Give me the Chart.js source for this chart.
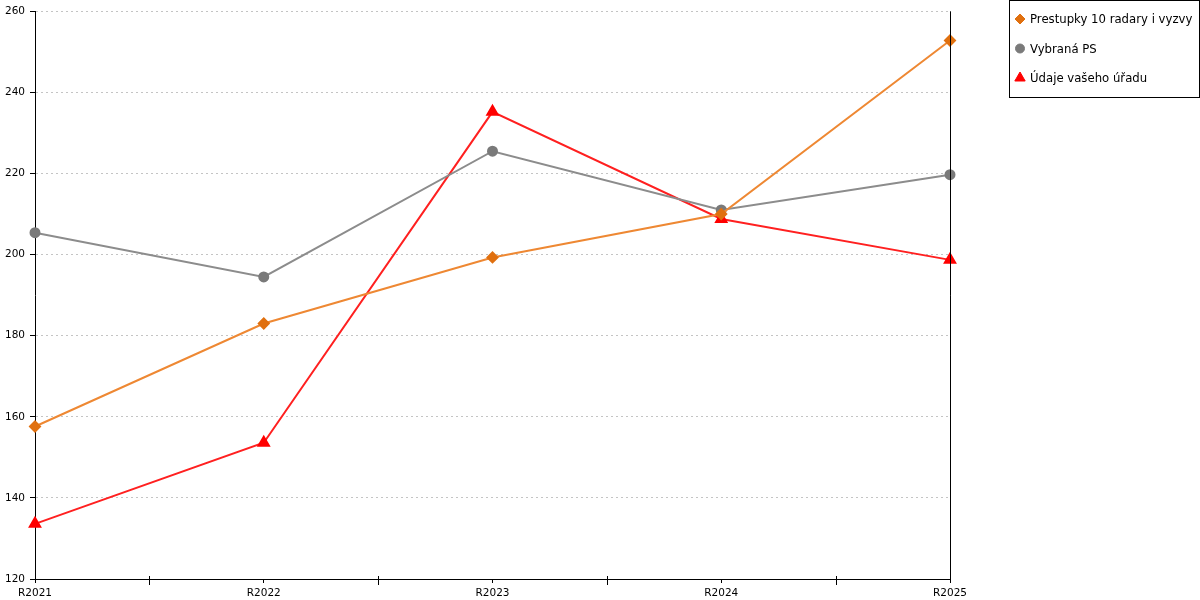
<!DOCTYPE html>
<html>
<head>
<meta charset="utf-8">
<script src="https://cdn.jsdelivr.net/npm/chart.js@4"></script>
<style>
  html, body { margin: 0; padding: 0; background: #fff; }
  #wrap { width: 1200px; height: 600px; }
</style>
</head>
<body>
<div id="wrap"><canvas id="chart" width="1200" height="600"></canvas></div>
<script>
// data
const years = ['R2021', 'R2022', 'R2023', 'R2024', 'R2025'];
const prestupky = [157.6, 183.0, 199.3, 210.0, 252.8];
const vybranaPS = [205.4, 194.5, 225.5, 211.0, 219.7];
const vasUrad = [133.6, 153.6, 235.2, 208.8, 198.7];
const yTicks = [120, 140, 160, 180, 200, 220, 240, 260];

const FONT = '"DejaVu Sans", sans-serif';

// legend box, midpoint ticks on x axis and right frame line
const extras = {
  id: 'extras',
  afterDraw(chart) {
    const ctx = chart.ctx;
    const area = chart.chartArea;
    const x = chart.scales.x;
    ctx.save();
    ctx.strokeStyle = '#000';
    ctx.lineWidth = 1;
    ctx.setLineDash([]);
    ctx.beginPath();
    ctx.moveTo(Math.round(area.right) + 0.5, area.top);
    ctx.lineTo(Math.round(area.right) + 0.5, area.bottom);
    for (let i = 0; i < years.length - 1; i++) {
      const px = Math.round(x.getPixelForValue(i + 0.5)) + 0.5;
      ctx.moveTo(px, area.bottom - 3);
      ctx.lineTo(px, area.bottom + 6);
    }
    ctx.stroke();

    // legend
    ctx.strokeRect(1009.5, 0.5, 190, 97);
    ctx.font = '11.7px ' + FONT;
    ctx.textBaseline = 'middle';
    chart.data.datasets.forEach((ds, i) => {
      const cy = 19 + i * 29.5;
      ctx.fillStyle = ds.pointBackgroundColor;
      ctx.strokeStyle = ds.pointBackgroundColor;
      Chart.helpers.drawPoint(ctx, {
        pointStyle: ds.pointStyle, radius: ds.pointRadius, borderWidth: 1
      }, 1020, cy);
      ctx.fillStyle = '#000';
      ctx.fillText(ds.label, 1030, cy + 1);
    });
    ctx.restore();
  }
};

new Chart(document.getElementById('chart'), {
  type: 'line',
  data: {
    labels: years,
    datasets: [
      {
        label: 'Prestupky 10 radary i vyzvy',
        data: prestupky,
        borderColor: '#ee8833',
        backgroundColor: '#e0700f',
        pointBackgroundColor: '#e0700f',
        pointBorderColor: '#e0700f',
        pointStyle: 'rectRot',
        pointRadius: 5,
        borderWidth: 2,
        tension: 0
      },
      {
        label: 'Vybraná PS',
        data: vybranaPS,
        borderColor: '#8c8c8c',
        backgroundColor: '#7a7a7a',
        pointBackgroundColor: '#7a7a7a',
        pointBorderColor: '#7a7a7a',
        pointStyle: 'circle',
        pointRadius: 4.5,
        borderWidth: 2,
        tension: 0
      },
      {
        label: 'Údaje vašeho úřadu',
        data: vasUrad,
        borderColor: '#ff2020',
        backgroundColor: '#ff0000',
        pointBackgroundColor: '#ff0000',
        pointBorderColor: '#ff0000',
        pointStyle: 'triangle',
        pointRadius: 6,
        borderWidth: 2,
        tension: 0
      }
    ]
  },
  options: {
    responsive: false,
    animation: false,
    layout: { padding: { top: 9, right: 250, left: 0, bottom: 0 } },
    plugins: {
      legend: { display: false },
      tooltip: { enabled: false }
    },
    scales: {
      x: {
        offset: false,
        grid: {
          drawOnChartArea: false,
          color: '#000',
          tickLength: 4
        },
        border: { color: '#000', width: 1 },
        ticks: {
          color: '#000',
          font: { family: FONT, size: 10.5 },
          maxRotation: 0,
          padding: 4
        },
        afterFit(scale) { scale.height = 21; }
      },
      y: {
        min: 120,
        max: 260,
        afterBuildTicks(scale) {
          scale.ticks = yTicks.map(v => ({ value: v }));
        },
        grid: {
          color: '#c4c4c4',
          tickColor: '#000',
          tickBorderDash: [],
          tickLength: 5
        },
        border: { color: '#000', width: 1, dash: [2, 3] },
        ticks: {
          color: '#000',
          font: { family: FONT, size: 10.5 },
          padding: 5
        },
        afterFit(scale) { scale.width = 35; }
      }
    }
  },
  plugins: [extras]
});
</script>
</body>
</html>
